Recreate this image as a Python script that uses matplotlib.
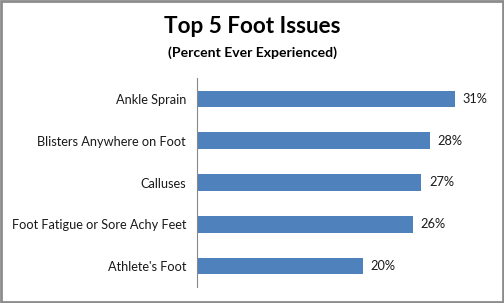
import matplotlib
matplotlib.use("Agg")
import matplotlib.pyplot as plt
from matplotlib.patches import Rectangle

# data
issues = ["Ankle Sprain", "Blisters Anywhere on Foot", "Calluses",
          "Foot Fatigue or Sore Achy Feet", "Athlete's Foot"]
percents = [31, 28, 27, 26, 20]
value_labels = ["31%", "28%", "27%", "26%", "20%"]

plt.rcParams['font.family'] = ['Lato', 'DejaVu Sans']

fig = plt.figure(figsize=(5.04, 3.03), dpi=100)
ax = fig.add_axes([197 / 504, 1 - 287 / 303, 291 / 504, 209 / 303])

ypos = list(range(len(issues)))
ax.barh(ypos, percents, height=0.4, color="#4F81BD")
ax.set_ylim(len(issues) - 0.5, -0.5)
ax.set_xlim(0, 35)

for y, v, lab in zip(ypos, percents, value_labels):
    ax.text(v + 0.9, y, lab, va="center", ha="left", fontsize=9.2, color="#1a1a1a")

ax.set_yticks(ypos)
ax.set_yticklabels(issues, fontsize=9.2, color="#1a1a1a")
ax.tick_params(axis="y", length=0, pad=8)
ax.set_xticks([])
for s in ["top", "right", "bottom"]:
    ax.spines[s].set_visible(False)
ax.spines["left"].set_color("#888888")
ax.spines["left"].set_linewidth(0.8)

fig.text(0.5, 1 - 33 / 303, "Top 5 Foot Issues", ha="center", va="baseline",
         fontsize=16.2, fontweight="bold", color="black")
fig.text(0.5, 1 - 57 / 303, "(Percent Ever Experienced)", ha="center", va="baseline",
         fontsize=10.1, fontweight="bold", color="black")

# outer border
fig.patches.append(Rectangle((0.002, 0.003), 0.996, 0.994, transform=fig.transFigure,
                             fill=False, edgecolor="#8c8c8c", linewidth=2))

fig.savefig("out.png", dpi=100)
